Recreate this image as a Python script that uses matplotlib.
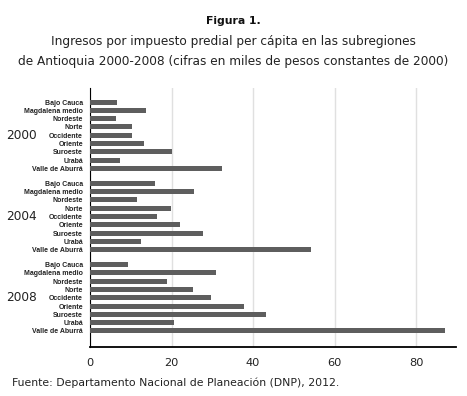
import matplotlib
matplotlib.use("Agg")
import matplotlib.pyplot as plt
import numpy as np

years = ["2000", "2004", "2008"]
regions = ["Bajo Cauca", "Magdalena medio", "Nordeste", "Norte", "Occidente",
           "Oriente", "Suroeste", "Urabá", "Valle de Aburrá"]
values_2000 = [6.6, 13.8, 6.3, 10.2, 10.2, 13.3, 20.0, 7.3, 32.4]
values_2004 = [16.0, 25.6, 11.5, 19.9, 16.4, 22.1, 27.8, 12.4, 54.2]
values_2008 = [9.3, 31.0, 19.0, 25.2, 29.6, 37.8, 43.1, 20.6, 87.2]
series = [values_2000, values_2004, values_2008]
xticks = [0, 20, 40, 60, 80]

title = "Figura 1."
subtitle_1 = "Ingresos por impuesto predial per cápita en las subregiones"
subtitle_2 = "de Antioquia 2000-2008 (cifras en miles de pesos constantes de 2000)"
source = "Fuente: Departamento Nacional de Planeación (DNP), 2012."

W, H = 467, 396
fig = plt.figure(figsize=(W / 100, H / 100), dpi=100)
ax = fig.add_axes([90 / W, 1 - 346.7 / H, (456 - 90) / W, (346.7 - 88) / H])

group_step = 9.8
ypos, widths, labels = [], [], []
for g, vals in enumerate(series):
    for i, v in enumerate(vals):
        ypos.append(g * group_step + i)
        widths.append(v)
        labels.append(regions[i])

ax.barh(ypos, widths, height=0.6, color="#5e5e5e", zorder=3)
ax.set_yticks(ypos)
ax.set_yticklabels(labels, fontsize=5.0, fontweight="bold", family="Liberation Sans",
                   color="#222222")
ax.tick_params(axis="y", length=0, pad=5)
ax.set_ylim(2 * group_step + 8 + 1.9, -1.7)
ax.set_xlim(0, 89.8)
ax.set_xticks(xticks)
ax.set_xticklabels([str(t) for t in xticks], fontsize=8.2, family="DejaVu Sans", color="#222222")
ax.tick_params(axis="x", length=0, pad=8)
ax.grid(axis="x", color="#e0e0e0", linewidth=1.0, zorder=0)
for s in ["top", "right"]:
    ax.spines[s].set_visible(False)
ax.spines["left"].set_linewidth(0.8)
ax.spines["bottom"].set_linewidth(1.3)

for g, y in enumerate(years):
    ax.text(-0.186, g * group_step + 4, y, transform=ax.get_yaxis_transform(),
            ha="center", va="center", fontsize=8.7, family="DejaVu Sans", color="#222222")

fig.text(0.5, 1 - 20.7 / H, title, ha="center", va="center", fontsize=7.8,
         fontweight="bold", family="DejaVu Sans", color="#111111")
fig.text(0.5, 1 - 42 / H, subtitle_1, ha="center", va="center", fontsize=8.7,
         family="DejaVu Sans", color="#222222")
fig.text(0.5, 1 - 62 / H, subtitle_2, ha="center", va="center", fontsize=8.7,
         family="DejaVu Sans", color="#222222")
fig.text(12 / W, 1 - 383 / H, source, ha="left", va="center", fontsize=7.8,
         family="DejaVu Sans", color="#222222")

fig.savefig("out.png", dpi=100)
